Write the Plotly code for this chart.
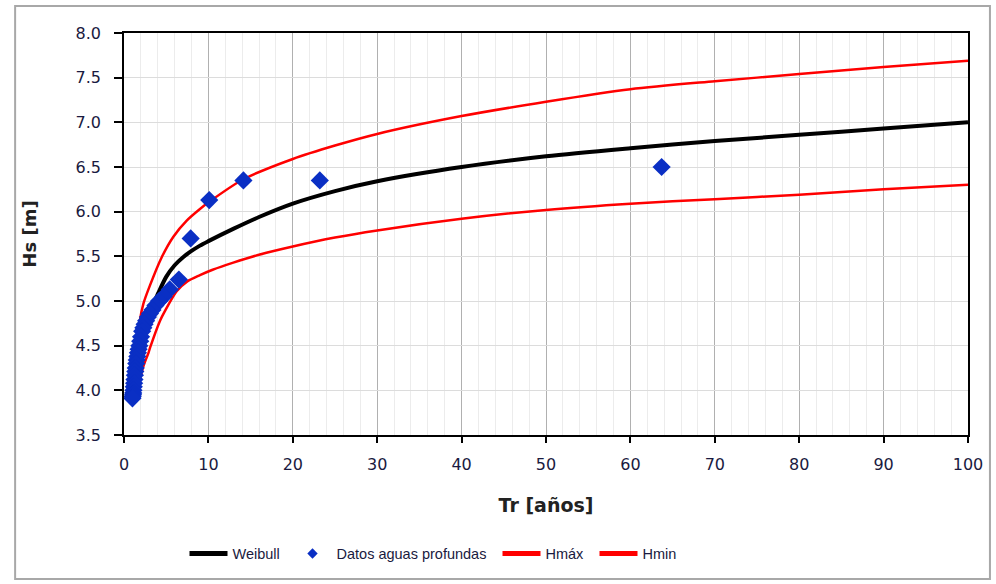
import plotly.graph_objects as go

# ---- data ----
weibull_tr = [1.6, 2.0, 3.0, 4.07, 5.0, 6.0, 7.0, 8.0, 9.0, 10.0, 13.0, 16.0, 20.0, 25.0, 30.0, 40.0, 50.0, 60.0, 70.0, 80.0, 90.0, 100.0]
weibull_hs = [4.30, 4.52, 4.86, 5.09, 5.27, 5.40, 5.49, 5.56, 5.62, 5.67, 5.81, 5.94, 6.09, 6.23, 6.34, 6.50, 6.62, 6.71, 6.79, 6.86, 6.93, 7.00]

hmax_tr = [1.7, 1.9, 2.3, 3.1, 4.47, 5.85, 7.43, 9.0, 10.1, 14.1, 20.0, 25.0, 30.0, 40.0, 50.0, 60.0, 70.0, 80.0, 90.0, 100.0]
hmax_hs = [4.62, 4.79, 4.97, 5.18, 5.49, 5.72, 5.90, 6.03, 6.11, 6.36, 6.59, 6.74, 6.87, 7.07, 7.23, 7.37, 7.46, 7.54, 7.62, 7.69]

hmin_tr = [1.8, 2.3, 2.9, 3.1, 4.27, 4.86, 6.24, 7.5, 9.0, 10.5, 12.95, 16.1, 20.0, 25.0, 30.0, 40.0, 50.0, 60.0, 70.0, 80.0, 90.0, 100.0]
hmin_hs = [4.08, 4.27, 4.42, 4.48, 4.78, 4.89, 5.11, 5.22, 5.29, 5.35, 5.43, 5.52, 5.61, 5.71, 5.79, 5.92, 6.02, 6.09, 6.14, 6.19, 6.25, 6.30]

datos_tr = [63.7, 23.2, 14.15, 10.1, 7.9, 6.5, 5.42, 4.70, 4.15, 3.72, 3.37, 3.08, 2.83, 2.62, 2.44, 2.29, 2.15, 2.02, 1.92,
            1.82, 1.73, 1.65, 1.58, 1.51, 1.45, 1.39, 1.34, 1.29, 1.24, 1.20, 1.16, 1.12, 1.09, 1.06, 1.03, 1.00]
datos_hs = [6.50, 6.35, 6.35, 6.13, 5.70, 5.24, 5.13, 5.05, 5.00, 4.95, 4.90, 4.86, 4.82, 4.78, 4.74, 4.70, 4.66, 4.60, 4.55,
            4.50, 4.46, 4.42, 4.38, 4.34, 4.30, 4.25, 4.21, 4.17, 4.12, 4.08, 4.04, 4.00, 3.97, 3.95, 3.93, 3.91]

x_ticks = [0, 10, 20, 30, 40, 50, 60, 70, 80, 90, 100]
y_ticks = [3.5, 4.0, 4.5, 5.0, 5.5, 6.0, 6.5, 7.0, 7.5, 8.0]

TICK_FONT = dict(family="DejaVu Sans", size=16, color="#1a1a40")
LEG_FONT = dict(family="Liberation Sans, Arial", size=14.5, color="#1a1a40")
BLUE = "#0a2fc4"
RED = "#ff0000"

fig = go.Figure()
fig.add_trace(go.Scatter(x=weibull_tr, y=weibull_hs, mode="lines", name="Weibull", showlegend=False,
                         line=dict(color="black", width=4, shape="spline", smoothing=0.8)))
fig.add_trace(go.Scatter(x=hmax_tr, y=hmax_hs, mode="lines", name="Hmáx", showlegend=False,
                         line=dict(color=RED, width=2.5, shape="spline", smoothing=0.8)))
fig.add_trace(go.Scatter(x=hmin_tr, y=hmin_hs, mode="lines", name="Hmin", showlegend=False,
                         line=dict(color=RED, width=2.5, shape="spline", smoothing=0.8)))
fig.add_trace(go.Scatter(x=datos_tr, y=datos_hs, mode="markers", name="Datos aguas profundas", showlegend=False,
                         marker=dict(symbol="diamond", size=14, color=BLUE, line=dict(width=0))))

# legend-only entries (thicker samples as in the reference legend)
fig.add_trace(go.Scatter(x=[None], y=[None], mode="lines", name="Weibull", legend="legend",
                         line=dict(color="black", width=5)))
fig.add_trace(go.Scatter(x=[None], y=[None], mode="markers", name="Datos aguas profundas", legend="legend2",
                         marker=dict(symbol="diamond", size=8, color=BLUE)))
fig.add_trace(go.Scatter(x=[None], y=[None], mode="lines", name="Hmáx", legend="legend3",
                         line=dict(color=RED, width=5)))
fig.add_trace(go.Scatter(x=[None], y=[None], mode="lines", name="Hmin", legend="legend4",
                         line=dict(color=RED, width=5)))


def leg(xpx):
    return dict(orientation="h", x=(xpx - 124) / 844, xanchor="left", y=-0.295, yanchor="middle",
                font=LEG_FONT, itemwidth=38, bgcolor="rgba(0,0,0,0)")


fig.update_layout(
    width=996, height=584,
    margin=dict(l=124, r=28, t=33, b=149),
    paper_bgcolor="white", plot_bgcolor="white",
    showlegend=True,
    legend=leg(184.5), legend2=leg(288.5), legend3=leg(497.5), legend4=leg(594.5),
    shapes=[dict(type="rect", xref="paper", yref="paper", x0=-0.129, x1=1.026, y0=-0.358, y1=1.067,
                 line=dict(color="#a8a8a8", width=2), layer="below")],
)

fig.update_xaxes(range=[0, 100], tickvals=x_ticks, ticktext=[str(v) for v in x_ticks],
                 showline=True, linecolor="black", linewidth=1.5, mirror=True,
                 ticks="outside", ticklen=6, tickcolor="black", tickwidth=1.5, ticklabelstandoff=8,
                 showgrid=True, gridcolor="#b0b0b0", gridwidth=1.2,
                 minor=dict(dtick=2, showgrid=True, gridcolor="#ececec", gridwidth=1, ticks=""),
                 zeroline=False, tickfont=TICK_FONT,
                 title=dict(text="<b>Tr [años]</b>", font=dict(family="DejaVu Sans", size=19, color="#222222"), standoff=26))
fig.update_yaxes(range=[3.5, 8.0], tickvals=y_ticks, ticktext=[f"{v:.1f}" for v in y_ticks],
                 showline=True, linecolor="black", linewidth=1.5, mirror=True,
                 ticks="outside", ticklen=8, tickcolor="black", tickwidth=1.5, ticklabelstandoff=10,
                 showgrid=True, gridcolor="#dcdcdc", gridwidth=1.2,
                 minor=dict(showgrid=False, ticks=""),
                 zeroline=False, tickfont=TICK_FONT,
                 title=dict(text="<b>Hs [m]</b>", font=dict(family="DejaVu Sans", size=18, color="#222222"), standoff=34))

fig.write_html("out.html")
